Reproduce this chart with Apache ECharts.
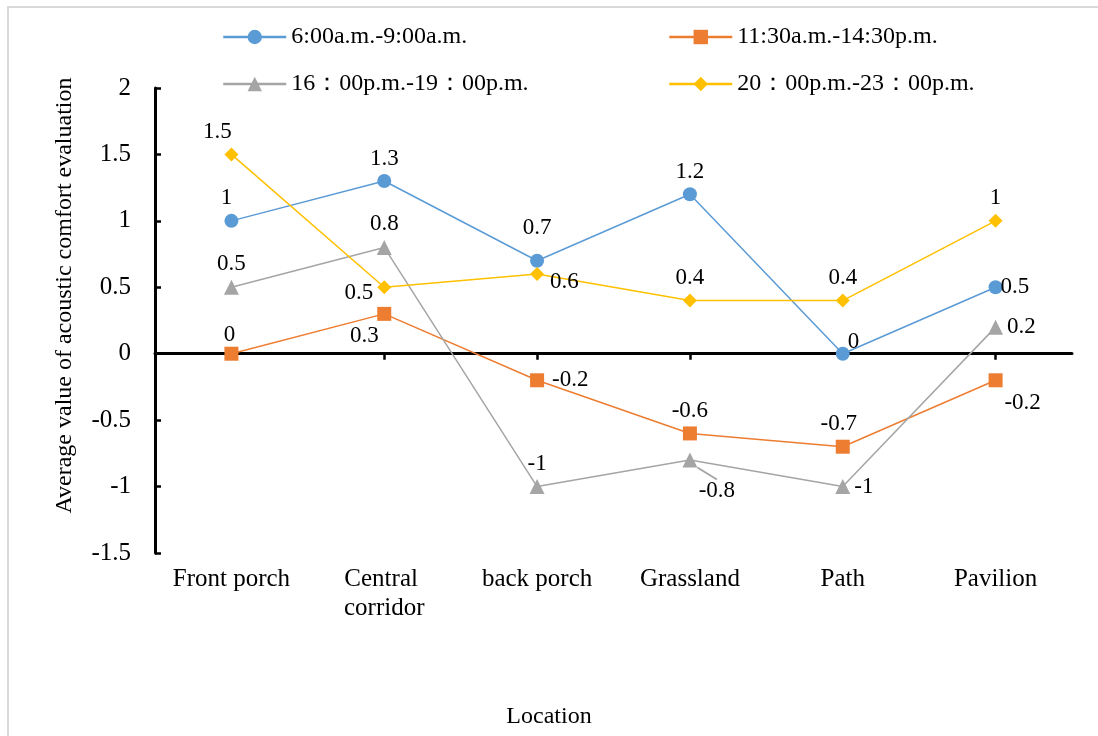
<!DOCTYPE html>
<html>
<head>
<meta charset="utf-8">
<script src="https://cdn.jsdelivr.net/npm/echarts@6/dist/echarts.min.js"></script>
<style>
html,body{margin:0;padding:0;background:#fff;}
#frame{position:absolute;left:7px;top:6px;width:1200px;height:800px;border-left:2px solid #d9d9d9;border-top:2px solid #d9d9d9;}
#chart{position:absolute;left:0;top:0;width:1098px;height:736px;}
</style>
</head>
<body>
<div id="frame"></div>
<div id="chart"></div>
<script>
const categories = ['Front porch', 'Central corridor', 'back porch', 'Grassland', 'Path', 'Pavilion'];
const seriesNames = ['6:00a.m.-9:00a.m.', '11:30a.m.-14:30p.m.', '16：00p.m.-19：00p.m.', '20：00p.m.-23：00p.m.'];
const morning = [1, 1.3, 0.7, 1.2, 0, 0.5];
const noon = [0, 0.3, -0.2, -0.6, -0.7, -0.2];
const afternoon = [0.5, 0.8, -1, -0.8, -1, 0.2];
const evening = [1.5, 0.5, 0.6, 0.4, 0.4, 1];
const yTicks = [-1.5, -1, -0.5, 0, 0.5, 1, 1.5, 2];

// label placement (style only)
const labelPos = [
  [['top',[-5,0]],['top',[0,0]],['top',[0,-10]],['top',[0,0]],['right',[-6,-12]],['right',[-6,0]]],
  [['top',[-2,4]],['bottom',[-20,0]],['right',[4,0]],['top',[0,0]],['top',[-4,0]],['bottom',[27,0]]],
  [['top',[-6,0]],['top',[2,0]],['top',[13,0]],['bottom',[0,0]],['right',[2,6]],['right',[2,0]]],
  [['top',[-14,0]],['left',[0,6]],['right',[2,8]],['top',[0,0]],['top',[0,0]],['top',[0,0]]]
];
const colors = ['#5B9BD5', '#ED7D31', '#A5A5A5', '#FFC000'];
const symbols = ['circle', 'rect', 'triangle', 'diamond'];
const values = [morning, noon, afternoon, evening];
const FONT = 'Liberation Serif';

function buildData(vals, si) {
  return vals.map((v, i) => {
    const p = labelPos[si][i];
    const item = { value: v, label: { position: p[0], offset: p[1] } };
    if (si === 2 && i === 3) item.labelLine = { show: true, lineStyle: { color: '#A5A5A5', width: 2 } };
    return item;
  });
}

const series = values.map((vals, si) => ({
  name: seriesNames[si],
  type: 'line',
  xAxisIndex: 0,
  data: buildData(vals, si),
  symbol: symbols[si],
  symbolSize: si === 2 ? 15 : 14,
  lineStyle: { color: colors[si], width: 1.5 },
  itemStyle: { color: colors[si] },
  label: { show: true, color: '#000', fontFamily: FONT, fontSize: 23, distance: 4 },
  labelLayout: si === 2 ? function (params) { if (params.dataIndex === 3) return { dx: 27, dy: 8 }; } : undefined,
  z: 2 + si
}));

const legendPos = [[222, 25], [668, 25], [222, 72], [668, 72]];
const legends = seriesNames.map((n, i) => ({
  data: [n], left: legendPos[i][0], top: legendPos[i][1], padding: 0,
  itemWidth: 63, itemHeight: 18, itemGap: 0,
  lineStyle: { width: 2.5 },
  textStyle: { fontFamily: FONT, fontSize: 24, color: '#000' }
}));

const chart = echarts.init(document.getElementById('chart'));
chart.setOption({
  animation: false,
  backgroundColor: 'transparent',
  title: { text: 'Location', left: 'center', top: 700, textStyle: { fontFamily: FONT, fontSize: 24, fontWeight: 'normal', color: '#000' } },
  legend: legends,
  grid: { left: 155, right: 26, top: 88, bottom: 183 },
  xAxis: [
    {
      type: 'category', data: categories, boundaryGap: true,
      axisLine: { onZero: true, lineStyle: { color: '#000', width: 3 } },
      axisTick: { show: true, alignWithLabel: true, length: 6, lineStyle: { color: '#000', width: 2.5 } },
      axisLabel: { show: false }, splitLine: { show: false }
    },
    {
      type: 'category', data: categories, boundaryGap: true, position: 'bottom',
      axisLine: { show: false, onZero: false }, axisTick: { show: false },
      axisLabel: { show: true, interval: 0, margin: 12, color: '#000', fontFamily: FONT, fontSize: 25, width: 140, overflow: 'break', lineHeight: 29 },
      splitLine: { show: false }
    }
  ],
  yAxis: {
    type: 'value', min: -1.5, max: 2, interval: 0.5,
    name: 'Average value of acoustic comfort evaluation', nameLocation: 'middle', nameGap: 78,
    nameTextStyle: { fontFamily: FONT, fontSize: 24, color: '#000', padding: [0, 0, 0, 50] },
    axisLine: { show: true, lineStyle: { color: '#000', width: 3 } },
    axisTick: { show: true, inside: true, length: 6, lineStyle: { color: '#000', width: 2.5 } },
    axisLabel: { color: '#000', fontFamily: FONT, fontSize: 25, margin: 24,
      formatter: v => { const t = yTicks.find(x => Math.abs(x - v) < 1e-9); return String(t !== undefined ? t : v); } },
    splitLine: { show: false }
  },
  series: series
});
</script>
</body>
</html>
